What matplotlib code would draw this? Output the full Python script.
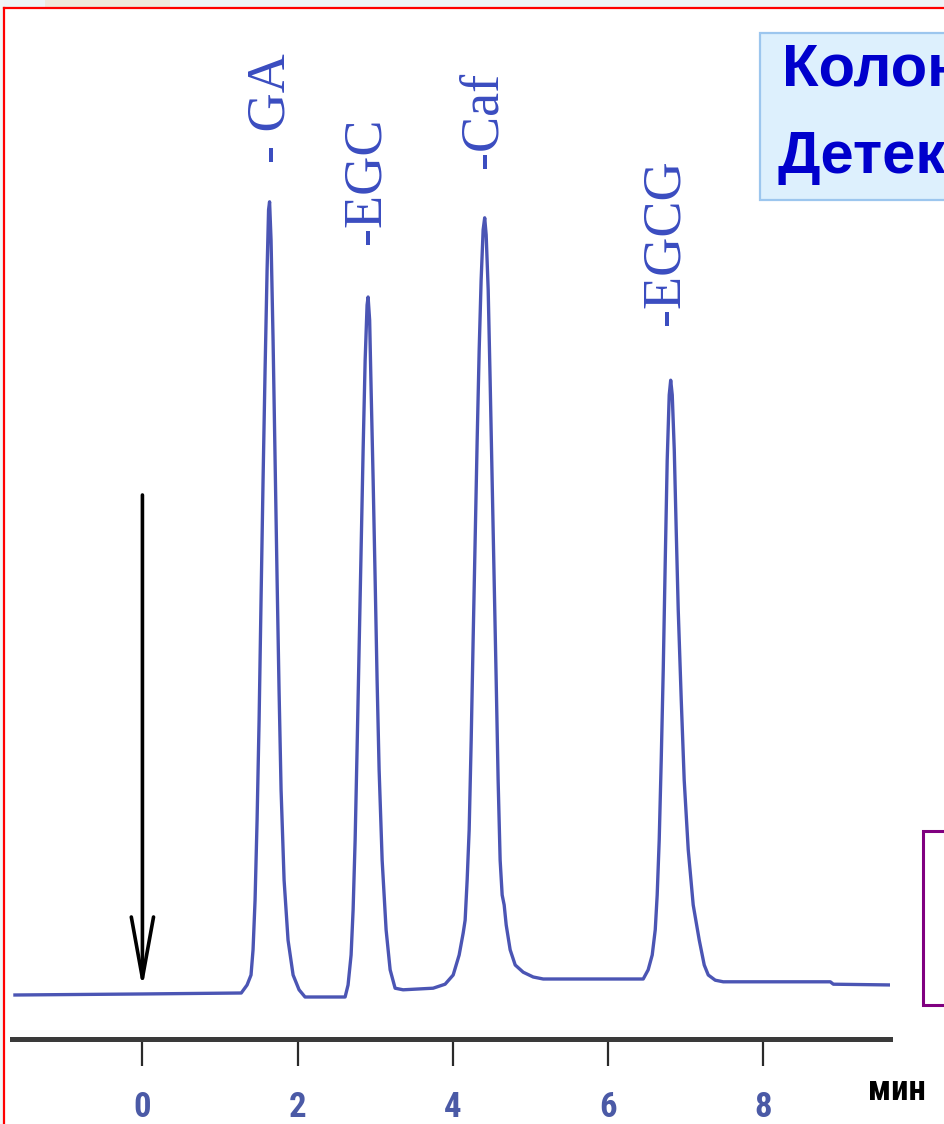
import matplotlib
matplotlib.use("Agg")
import matplotlib.pyplot as plt
from matplotlib import font_manager as fm
from matplotlib.patches import Rectangle
from matplotlib.lines import Line2D

# ---------------- data ----------------
time_min = [-1.642, 0.008, 1.273, 1.348, 1.399, 1.425, 1.451, 1.477, 1.503, 1.528,
            1.554, 1.580, 1.606, 1.625, 1.638, 1.657, 1.683, 1.709, 1.735, 1.760,
            1.786, 1.825, 1.876, 1.941, 2.018, 2.095, 2.611,
            2.649, 2.688, 2.714, 2.740, 2.765, 2.791, 2.817, 2.843, 2.869, 2.894,
            2.907, 2.927, 2.946, 2.972, 2.998, 3.023, 3.049, 3.088, 3.139, 3.191,
            3.255, 3.358, 3.745, 3.899,
            4.003, 4.080, 4.132, 4.157, 4.183, 4.209, 4.235, 4.260, 4.286, 4.312,
            4.338, 4.363, 4.389, 4.409, 4.428, 4.454, 4.479, 4.505, 4.531, 4.557,
            4.582, 4.608, 4.634, 4.660, 4.686, 4.737, 4.802, 4.905, 5.034, 5.163,
            6.451,
            6.515, 6.567, 6.606, 6.631, 6.657, 6.683, 6.709, 6.735, 6.760, 6.786,
            6.805, 6.825, 6.851, 6.876, 6.902, 6.941, 6.979, 7.031, 7.095, 7.173,
            7.237, 7.289, 7.379, 7.482, 8.861, 8.900, 9.673]
signal = [-0.25, -0.12, 0.0, 1.0, 2.25, 5.4, 11.6, 21.6, 34.1, 49.1,
          64.1, 77.9, 90.4, 97.9, 98.9, 94.1, 81.6, 66.6, 51.6, 37.9,
          25.4, 14.1, 6.6, 2.25, 0.4, -0.5, -0.5,
          1.0, 4.75, 10.4, 19.1, 30.4, 42.9, 55.4, 67.9, 79.1, 86.0,
          87.0, 84.1, 75.4, 64.1, 51.6, 39.1, 27.9, 16.6, 7.9, 2.9,
          0.6, 0.4, 0.6, 1.1,
          2.25, 4.75, 7.5, 9.1, 14.1, 20.4, 31.6, 44.1, 56.6, 69.1,
          80.4, 89.1, 95.4, 96.9, 94.75, 87.9, 76.6, 64.1, 51.6, 39.1,
          26.6, 16.6, 12.25, 11.0, 8.5, 5.4, 3.5, 2.6, 2.0, 1.75,
          1.75,
          2.9, 4.75, 7.9, 12.25, 19.1, 29.1, 40.4, 54.1, 66.6, 74.75,
          76.6, 74.75, 67.9, 57.9, 47.9, 36.6, 26.6, 17.9, 11.0, 6.6,
          3.5, 2.25, 1.6, 1.4, 1.4, 1.1, 1.0]

peak_names = ["- GA", "-EGC", "-Caf", "-EGCG"]
peak_label_x = [1.657, 2.881, 4.389, 6.735]
peak_label_y = [110.6, 101.5, 109.1, 93.9]

tick_values = [0, 2, 4, 6, 8]
tick_labels = ["0", "2", "4", "6", "8"]
x_unit = "мин"
box_lines = ["Колонка", "Детектор"]
injection_time = 0
arrow_top = 62.25

# ---------------- fonts ----------------
installed = {f.name for f in fm.fontManager.ttflist}
narrow_family = None
for cand in ["Liberation Sans Narrow", "Arial Narrow", "Roboto Condensed",
             "Open Sans Condensed", "Noto Sans Condensed", "DejaVu Sans Condensed"]:
    if cand in installed:
        narrow_family = cand
        break
if narrow_family is None:
    narrow = dict(family=["DejaVu Sans"], stretch="condensed")
else:
    narrow = dict(family=[narrow_family, "DejaVu Sans"])

# ---------------- figure ----------------
W, H = 945, 1124
fig = plt.figure(figsize=(W / 100, H / 100), dpi=100)
fig.patch.set_facecolor("white")


def fx(px):
    return px / W


def fy(py):
    return 1 - py / H


# top strip (slide background above red frame)
fig.add_artist(Rectangle((0, fy(8)), 1, 8 / H, transform=fig.transFigure,
                         facecolor="#EEF4F7", edgecolor="none", zorder=0))
fig.add_artist(Rectangle((fx(45), fy(8)), 125 / W, 8 / H, transform=fig.transFigure,
                         facecolor="#EFE8DC", edgecolor="none", zorder=0))
fig.add_artist(Rectangle((0, 0), fx(4), 1, transform=fig.transFigure,
                         facecolor="#F1F5F7", edgecolor="none", zorder=0))

# axes (pixel layout: x 0 min near px 142, 77.6 px per minute)
x_left, x_right = -1.68, 9.63
y_bot, y_top = -5.75, 120.375
ax = fig.add_axes([fx(12), fy(1039), (890 - 12) / W, (1039 - 30) / H])
ax.set_xlim(x_left, x_right)
ax.set_ylim(y_bot, y_top)
ax.patch.set_alpha(0)
for s in ["top", "right", "left"]:
    ax.spines[s].set_visible(False)
ax.spines["bottom"].set_color("#3A3A3A")
ax.spines["bottom"].set_linewidth(3.6)
ax.set_yticks([])
ax.set_xticks(tick_values)
ax.set_xticklabels(tick_labels)
ax.tick_params(axis="x", direction="out", length=19.5, width=1.6, color="#2A2A2A",
               pad=18, labelsize=25, labelcolor="#4B5AA6")
for lbl in ax.get_xticklabels():
    lbl.set_fontfamily(narrow["family"])
    if "stretch" in narrow:
        lbl.set_fontstretch(narrow["stretch"])
    lbl.set_fontweight("bold")

# chromatogram trace
ax.plot(time_min, signal, color="#4B55B4", lw=2.4, solid_joinstyle="round", zorder=3)

# peak labels
for name, xl, yl in zip(peak_names, peak_label_x, peak_label_y):
    ax.text(xl, yl, name, rotation=90, ha="center", va="center",
            fontsize=39, color="#3A4CC0", family=["Liberation Serif", "DejaVu Serif"],
            clip_on=False)

# injection arrow
ax.annotate("", xy=(injection_time, 0.6), xytext=(injection_time, arrow_top),
            arrowprops=dict(arrowstyle="->, head_length=2.2, head_width=0.4",
                            lw=2.6, color="black", mutation_scale=20,
                            shrinkA=0, shrinkB=0), zorder=4)

# unit label
t_unit = fig.text(fx(868), fy(1100), x_unit, ha="left", va="baseline", fontsize=25,
                  fontweight="bold", color="black", family=narrow["family"])
if "stretch" in narrow:
    t_unit.set_fontstretch(narrow["stretch"])

# info box (top right, cut by the slide edge as in the reference)
fig.add_artist(Rectangle((fx(760), fy(200)), 250 / W, 167 / H, transform=fig.transFigure,
                         facecolor="#DDF0FD", edgecolor="#9CC6EE", lw=1.6, zorder=5))
fig.text(fx(782), fy(86), box_lines[0], ha="left", va="baseline", fontsize=43,
         fontweight="bold", color="#0000CC", family=["Liberation Sans", "DejaVu Sans"],
         zorder=6)
fig.text(fx(778), fy(173), box_lines[1], ha="left", va="baseline", fontsize=43,
         fontweight="bold", color="#0000CC", family=["Liberation Sans", "DejaVu Sans"],
         zorder=6)

# purple box (bottom right, cut by the slide edge)
fig.add_artist(Rectangle((fx(923), fy(1005)), 100 / W, 174 / H, transform=fig.transFigure,
                         facecolor="white", edgecolor="#800080", lw=2.2, zorder=5))

# red slide frame
fig.add_artist(Line2D([fx(4), fx(4)], [fy(8), 0], transform=fig.transFigure,
                      color="#FF0000", lw=1.6, zorder=10))
fig.add_artist(Line2D([fx(4), 1], [fy(8), fy(8)], transform=fig.transFigure,
                      color="#FF0000", lw=1.6, zorder=10))

fig.savefig("out.png", dpi=100)
